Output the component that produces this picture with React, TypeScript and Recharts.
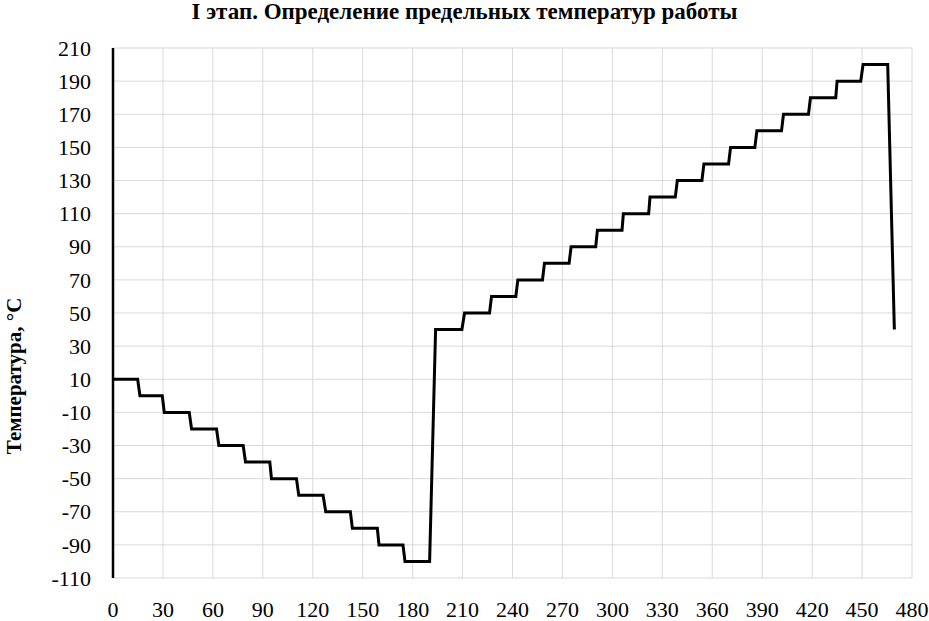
import React from 'react';
import { LineChart, Line, XAxis, YAxis, CartesianGrid } from 'recharts';

const chartTitle = 'I этап. Определение предельных температур работы';
const yAxisTitle = 'Температура, °С';

// time points (x) and temperature values (y) of the step profile
const timeValues = [
  0, 14.8, 16.2, 29.6, 30.8, 45.8, 47.2, 62.2, 63.6, 78.2, 79.6, 94.2, 95.2, 110.2,
  111.6, 126.2, 127.8, 142.6, 143.8, 158.8, 159.8, 174.2, 175.4, 190.2,
  193.8, 209.6, 211.2, 226.2, 227.4, 242.0, 243.2, 258.0, 259.2, 274.0, 275.2, 290.0,
  291.0, 305.8, 306.6, 321.8, 322.6, 337.8, 339.0, 353.8, 355.0, 369.8, 371.0, 385.6,
  386.8, 401.6, 402.8, 417.8, 419.0, 434.2, 435.0, 449.2, 450.6, 465.4, 469.4,
];
const temperatureValues = [
  10, 10, 0, 0, -10, -10, -20, -20, -30, -30, -40, -40, -50, -50,
  -60, -60, -70, -70, -80, -80, -90, -90, -100, -100,
  40, 40, 50, 50, 60, 60, 70, 70, 80, 80, 90, 90,
  100, 100, 110, 110, 120, 120, 130, 130, 140, 140, 150, 150,
  160, 160, 170, 170, 180, 180, 190, 190, 200, 200, 40,
];

const xTicks = [0, 30, 60, 90, 120, 150, 180, 210, 240, 270, 300, 330, 360, 390, 420, 450, 480];
const yTicks = [-110, -90, -70, -50, -30, -10, 10, 30, 50, 70, 90, 110, 130, 150, 170, 190, 210];

const data = timeValues.map((t, i) => ({ t, temp: temperatureValues[i] }));

const FONT = "'Liberation Serif', Tinos, 'Times New Roman', 'DejaVu Serif', serif";

const XTick = (props: any) => {
  const { x, y, payload } = props;
  return (
    <text x={x} y={y + 39} textAnchor="middle" style={{ fontFamily: FONT }} fontSize={22} fill="#000">
      {payload.value}
    </text>
  );
};

const YTick = (props: any) => {
  const { x, y, payload } = props;
  return (
    <text x={x - 22} y={y} dy="0.35em" textAnchor="end" style={{ fontFamily: FONT }} fontSize={22} fill="#000">
      {payload.value}
    </text>
  );
};

const YLabel = () => (
  <text
    transform="translate(20.5, 376) rotate(-90)"
    textAnchor="middle"
    style={{ fontFamily: FONT }}
    fontSize={21}
    fontWeight="bold"
    fill="#000"
  >
    {yAxisTitle}
  </text>
);

export default function App() {
  return (
    <div style={{ position: 'absolute', left: 0, top: 0, width: 929, height: 621, background: '#fff' }}>
      <div
        style={{
          position: 'absolute',
          left: 0,
          top: 0,
          width: 929,
          textAlign: 'center',
          fontFamily: FONT,
          fontWeight: 'bold',
          fontSize: 23,
          lineHeight: '23px',
          color: '#000',
        }}
      >
        {chartTitle}
      </div>
      <LineChart
        width={929}
        height={621}
        data={data}
        margin={{ top: 48, right: 17, bottom: 13, left: 0 }}
      >
        <CartesianGrid stroke="#d9d9d9" strokeWidth={1} />
        <XAxis
          type="number"
          dataKey="t"
          domain={[0, 480]}
          ticks={xTicks}
          interval={0}
          axisLine={false}
          tickLine={false}
          tickSize={0}
          tickMargin={0}
          height={30}
          tick={<XTick />}
          allowDataOverflow
        />
        <YAxis
          type="number"
          domain={[-110, 210]}
          ticks={yTicks}
          interval={0}
          width={113}
          axisLine={{ stroke: '#000', strokeWidth: 2.5 }}
          tickLine={false}
          tickSize={0}
          tickMargin={0}
          tick={<YTick />}
          label={<YLabel />}
          allowDataOverflow
        />
        <Line
          type="linear"
          dataKey="temp"
          stroke="#000"
          strokeWidth={3}
          dot={false}
          activeDot={false}
          isAnimationActive={false}
        />
      </LineChart>
    </div>
  );
}
